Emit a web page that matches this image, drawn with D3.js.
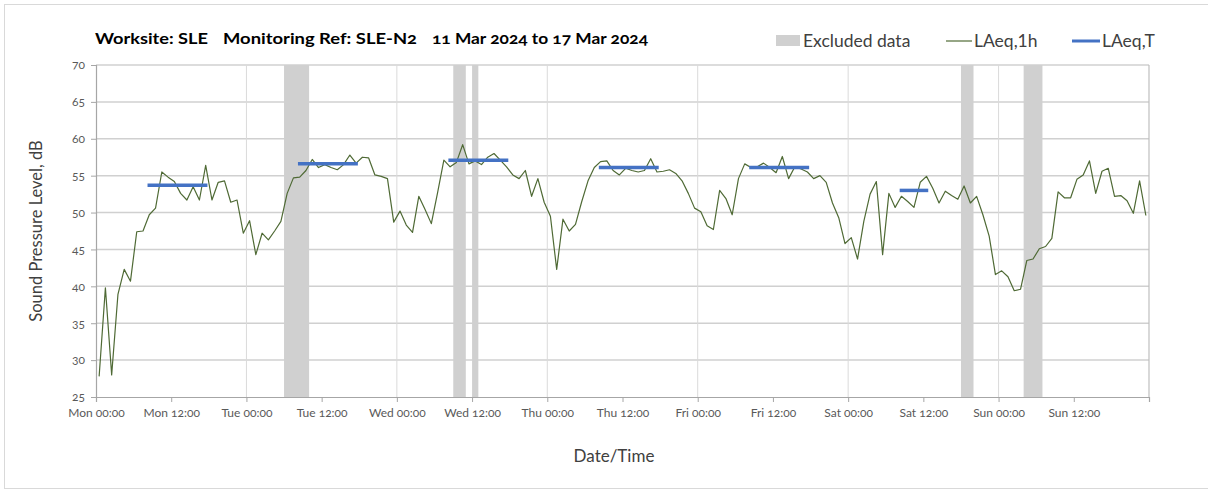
<!DOCTYPE html>
<html>
<head>
<meta charset="utf-8">
<script src="https://cdn.jsdelivr.net/npm/d3@7"></script>
<style>
  html, body { margin: 0; padding: 0; background: #ffffff; }
  svg { display: block; font-family: Lato, "Open Sans", sans-serif; }
</style>
</head>
<body>
<svg id="chart" width="1208" height="492"></svg>
<script>
// ---------------- DATA ----------------
// Hourly LAeq,1h values, Mon 00:00 (hour 0) to Sun 23:00 (hour 167)
const laeq1h = [
  27.8, 39.8, 28.0, 38.9, 42.3, 40.7, 47.4, 47.5, 49.7, 50.6, 55.5, 54.8,
  54.2, 52.6, 51.7, 53.5, 51.7, 56.4, 51.7, 54.1, 54.3, 51.4, 51.7, 47.2,
  48.9, 44.3, 47.2, 46.3, 47.5, 48.8, 52.6, 54.7, 54.8, 55.7, 57.2, 56.1,
  56.5, 56.1, 55.8, 56.5, 57.8, 56.7, 57.5, 57.4, 55.1, 54.9, 54.6, 48.7,
  50.2, 48.3, 47.3, 52.2, 50.4, 48.5, 52.7, 57.1, 56.2, 56.8, 59.2, 56.6,
  57.0, 56.5, 57.5, 58.0, 57.1, 56.2, 55.1, 54.6, 55.7, 52.2, 54.6, 51.4,
  49.5, 42.3, 49.1, 47.5, 48.4, 51.5, 54.3, 56.1, 56.9, 57.0, 55.7, 55.1,
  56.0, 55.7, 55.5, 55.7, 57.3, 55.5, 55.6, 55.8, 55.3, 54.3, 52.6, 50.6,
  50.1, 48.2, 47.7, 53.0, 51.9, 49.7, 54.6, 56.6, 56.1, 56.2, 56.7, 56.1,
  55.4, 57.6, 54.6, 56.2, 55.9, 55.5, 54.6, 55.0, 54.1, 51.3, 49.3, 45.8,
  46.6, 43.7, 48.8, 52.5, 54.2, 44.3, 52.6, 50.7, 52.2, 51.5, 50.7, 54.1,
  54.9, 53.3, 51.3, 52.9, 52.3, 51.8, 53.6, 51.3, 52.2, 49.7, 46.8, 41.6,
  42.1, 41.3, 39.4, 39.6, 43.5, 43.7, 45.1, 45.4, 46.5, 52.8, 52.0, 52.0,
  54.5, 55.1, 57.0, 52.6, 55.6, 56.0, 52.2, 52.3, 51.6, 49.9, 54.3, 49.6
];

// LAeq,T daytime periods (first and last hourly point) and values
const periodStart = [8, 32, 56, 80, 104, 128];
const periodEnd   = [17, 41, 65, 89, 113, 132];
const periodValue = [53.7, 56.6, 57.1, 56.1, 56.1, 53.0];

// Excluded data periods (hour edges)
const excludedStart = [30, 57, 60, 138, 148];
const excludedEnd   = [34, 59, 61, 140, 151];

// Tick labels
const xTickHours = [0, 12, 24, 36, 48, 60, 72, 84, 96, 108, 120, 132, 144, 156, 168];
const xTickLabels = ["Mon 00:00", "Mon 12:00", "Tue 00:00", "Tue 12:00", "Wed 00:00", "Wed 12:00",
  "Thu 00:00", "Thu 12:00", "Fri 00:00", "Fri 12:00", "Sat 00:00", "Sat 12:00",
  "Sun 00:00", "Sun 12:00", ""];
const yTicks = [25, 30, 35, 40, 45, 50, 55, 60, 65, 70];
const dayLines = [24, 48, 72, 96, 120, 144];

const titleParts = ["Worksite: SLE", "Monitoring Ref: SLE-N2", "11 Mar 2024 to 17 Mar 2024"];
const legendLabels = ["Excluded data", "LAeq,1h", "LAeq,T"];

// ---------------- DRAW ----------------
const svg = d3.select("#chart");
const L = 96, R = 1149, T = 65, B = 397;
const x = d3.scaleLinear().domain([0, 168]).range([L, R]);
const y = d3.scaleLinear().domain([25, 70]).range([B, T]);

// outer chart border
svg.append("rect").attr("x", 4.5).attr("y", 4.5).attr("width", 1220).attr("height", 484)
  .attr("fill", "none").attr("stroke", "#d9d9d9").attr("stroke-width", 1);

// horizontal gridlines
svg.append("g").selectAll("line").data(yTicks.filter(v => v > 25)).join("line")
  .attr("x1", L).attr("x2", R)
  .attr("y1", d => y(d)).attr("y2", d => y(d))
  .attr("stroke", "#d0d0d0").attr("stroke-width", 1.5);

// vertical day gridlines
svg.append("g").selectAll("line").data(dayLines).join("line")
  .attr("x1", d => x(d)).attr("x2", d => x(d))
  .attr("y1", T).attr("y2", B)
  .attr("stroke", "#dadada").attr("stroke-width", 1);

// excluded bands
svg.append("g").selectAll("rect").data(excludedStart.map((s, i) => [s, excludedEnd[i]])).join("rect")
  .attr("x", d => x(d[0])).attr("width", d => x(d[1]) - x(d[0]))
  .attr("y", T).attr("height", B - T)
  .attr("fill", "#d0d0d0");

// right border
svg.append("line").attr("x1", R).attr("x2", R).attr("y1", T).attr("y2", B)
  .attr("stroke", "#bfbfbf").attr("stroke-width", 1.2);

// LAeq,1h line
const line = d3.line().x((d, i) => x(i + 0.5)).y(d => y(d));
svg.append("path").datum(laeq1h).attr("d", line)
  .attr("fill", "none").attr("stroke", "#4f6a35").attr("stroke-width", 1.2)
  .attr("stroke-linejoin", "round");

// LAeq,T lines
const tLine = d3.line().x(d => x(d[0] + 0.5)).y(d => y(d[1]));
svg.append("g").selectAll("path").data(periodStart.map((s, i) => [[s, periodValue[i]], [periodEnd[i], periodValue[i]]]))
  .join("path").attr("d", tLine)
  .attr("fill", "none").attr("stroke", "#4472c4").attr("stroke-width", 3.5)
  .attr("stroke-linecap", "square");

// axes
const xAxis = d3.axisBottom(x).tickValues(xTickHours).tickSize(5).tickPadding(6)
  .tickFormat((d, i) => xTickLabels[i]);
const gx = svg.append("g").attr("transform", `translate(0,${B})`).call(xAxis);
gx.select(".domain").attr("stroke", "#a6a6a6").attr("stroke-width", 1.2);
gx.selectAll(".tick line").attr("stroke", "#a6a6a6");
gx.selectAll(".tick text").attr("fill", "#595959").style("font-size", "12px")
  .style("font-family", "Lato, sans-serif").style("font-variant-numeric", "oldstyle-nums");

const yAxis = d3.axisLeft(y).tickValues(yTicks).tickSize(5).tickPadding(6).tickFormat(d3.format("d"));
const gy = svg.append("g").attr("transform", `translate(${L},0)`).call(yAxis);
gy.select(".domain").attr("stroke", "#a6a6a6").attr("stroke-width", 1.2);
gy.selectAll(".tick line").attr("stroke", "#a6a6a6");
gy.selectAll(".tick text").attr("fill", "#595959").style("font-size", "12px")
  .style("font-family", "Lato, sans-serif").style("font-variant-numeric", "oldstyle-nums");

// axis titles
svg.append("text").attr("x", 614).attr("y", 462).attr("text-anchor", "middle")
  .attr("fill", "#404040").style("font-size", "17px").text("Date/Time");
svg.append("text").attr("transform", `translate(42,${(T + B) / 2}) rotate(-90)`)
  .attr("text-anchor", "middle").attr("fill", "#404040").style("font-size", "16.5px")
  .text("Sound Pressure Level, dB");

// title
const titleX = [95, 223, 432];
const titleW = [113, 194, 216];
svg.append("g").selectAll("text").data(titleParts).join("text")
  .attr("x", (d, i) => titleX[i]).attr("y", 44)
  .attr("textLength", (d, i) => titleW[i]).attr("lengthAdjust", "spacingAndGlyphs")
  .attr("fill", "#000").style("font-size", "16px").style("font-weight", "bold")
  .style("font-variant-numeric", "oldstyle-nums")
  .text(d => d);

// legend
const lg = svg.append("g");
lg.append("rect").attr("x", 776).attr("y", 35).attr("width", 24).attr("height", 11).attr("fill", "#d0d0d0");
lg.append("line").attr("x1", 946).attr("x2", 972).attr("y1", 41).attr("y2", 41)
  .attr("stroke", "#4f6a35").attr("stroke-width", 1.2);
lg.append("line").attr("x1", 1072).attr("x2", 1100).attr("y1", 41).attr("y2", 41)
  .attr("stroke", "#4472c4").attr("stroke-width", 3);
const legendX = [803, 974, 1102];
lg.selectAll("text").data(legendLabels).join("text")
  .attr("x", (d, i) => legendX[i]).attr("y", 47)
  .attr("fill", "#404040").style("font-size", "17.5px")
  .text(d => d);
</script>
</body>
</html>
